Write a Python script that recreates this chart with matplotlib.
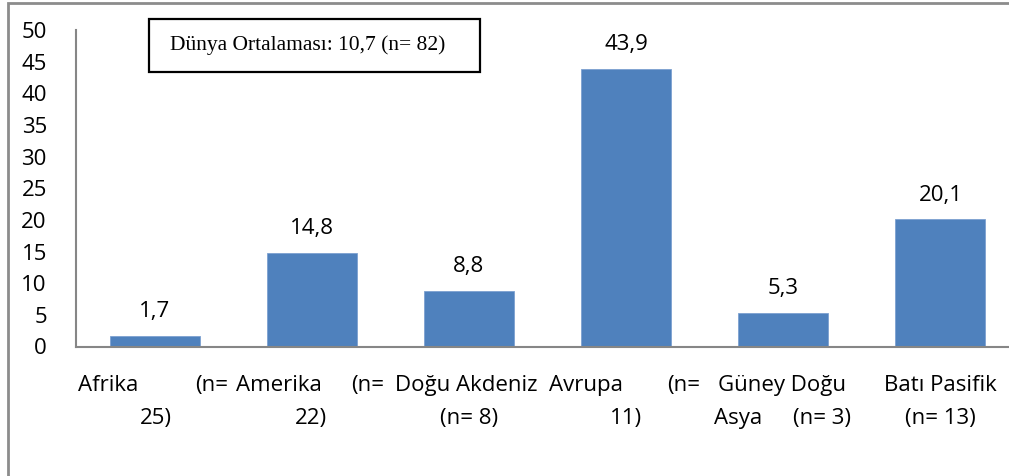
"""Bölgelere göre değerler - bar chart."""

import matplotlib

matplotlib.use("Agg")
import matplotlib.pyplot as plt
from matplotlib.patches import Rectangle

# data
categories = [
    "Afrika (n= 25)",
    "Amerika (n= 22)",
    "Doğu Akdeniz (n= 8)",
    "Avrupa (n= 11)",
    "Güney Doğu Asya (n= 3)",
    "Batı Pasifik (n= 13)",
]
values = [1.7, 14.8, 8.8, 43.9, 5.3, 20.1]
value_labels = ["1,7", "14,8", "8,8", "43,9", "5,3", "20,1"]
yticks = [0, 5, 10, 15, 20, 25, 30, 35, 40, 45, 50]
world_note = "Dünya Ortalaması: 10,7 (n= 82)"

# how Excel wrapped the category labels: (text, x offset, line, ha)
label_pieces = [
    [("Afrika", -0.49, 0, "left"), ("(n=", 0.26, 0, "left"), ("25)", 0.11, 1, "right")],
    [("Amerika", -0.48, 0, "left"), ("(n=", 0.25, 0, "left"), ("22)", 0.10, 1, "right")],
    [("Doğu Akdeniz", -0.47, 0, "left"), ("(n= 8)", 0.0, 1, "center")],
    [("Avrupa", -0.49, 0, "left"), ("(n=", 0.26, 0, "left"), ("11)", 0.10, 1, "right")],
    [("Güney Doğu", -0.01, 0, "center"), ("Asya", -0.44, 1, "left"), ("(n= 3)", 0.43, 1, "right")],
    [("Batı Pasifik", 0.0, 0, "center"), ("(n= 13)", 0.0, 1, "center")],
]

BAR_COLOR = "#4F81BD"
AXIS_COLOR = "#868686"
FONT = "Open Sans"
FS = 16

W, H = 1009, 476
fig = plt.figure(figsize=(W / 100, H / 100), dpi=100)
ax = fig.add_axes([76 / W, (H - 346.5) / H, 943 / W, 316.5 / H])

x = list(range(len(categories)))
ax.bar(x, values, width=0.573, color=BAR_COLOR, edgecolor="#7da1d0", linewidth=0.6, zorder=2)
ax.set_xlim(-0.5, len(categories) - 0.5)
ax.set_ylim(0, 50)
ax.set_yticks(yticks)
ax.set_yticklabels([str(t) for t in yticks], fontfamily=FONT, fontsize=FS)
ax.tick_params(axis="y", length=0, pad=21)
ax.set_xticks([])

for side in ("top", "right"):
    ax.spines[side].set_visible(False)
for side in ("left", "bottom"):
    ax.spines[side].set_color(AXIS_COLOR)
    ax.spines[side].set_linewidth(1.5)

for xi, v, lab in zip(x, values, value_labels):
    ax.annotate(lab, xy=(xi, v), xytext=(0, 13.5), textcoords="offset points",
                ha="center", va="baseline", fontfamily=FONT, fontsize=FS)

line_offsets = [-28.4, -51.5]
for xi, pieces in zip(x, label_pieces):
    for text, dx, line, ha in pieces:
        ax.annotate(text, xy=(xi + dx, 0), xycoords=("data", "axes fraction"),
                    xytext=(0, line_offsets[line]), textcoords="offset points",
                    ha=ha, va="center", fontfamily=FONT, fontsize=FS,
                    annotation_clip=False)

# note box
fig.patches.append(Rectangle((149 / W, (H - 72) / H), 331 / W, 53 / H,
                             transform=fig.transFigure, fill=False,
                             edgecolor="black", linewidth=1.6))
fig.text(308 / W, (H - 45) / H, world_note, ha="center", va="center",
         fontfamily="Liberation Serif", fontsize=15.5)

# outer chart border (partly cropped)
fig.patches.append(Rectangle((8 / W, -0.1), 1.2, (H - 2.5) / H + 0.1,
                             transform=fig.transFigure, fill=False,
                             edgecolor="#8c8c8c", linewidth=2))

fig.savefig("out.png", dpi=100)
